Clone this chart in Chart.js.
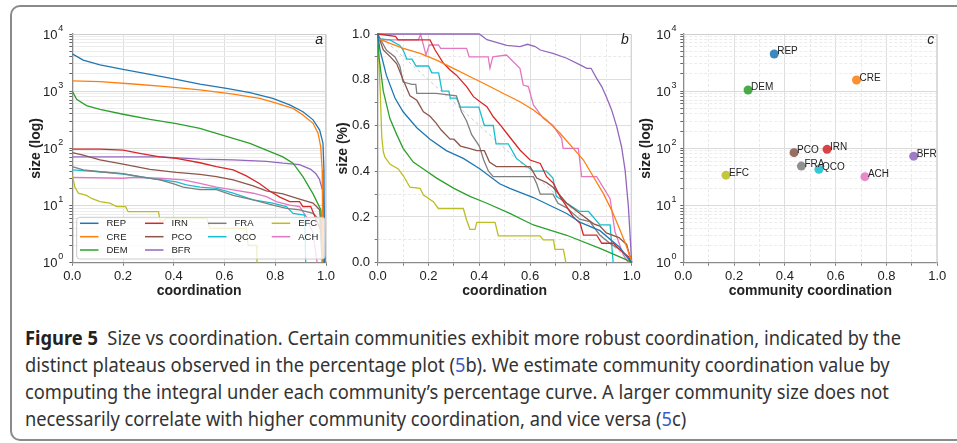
<!DOCTYPE html>
<html>
<head>
<meta charset="utf-8">
<script src="https://cdn.jsdelivr.net/npm/chart.js@4.4.1/dist/chart.umd.min.js"></script>
<style>
  body { margin: 0; width: 957px; height: 443px; overflow: hidden; background: #fff; position: relative; }
  #frame { position: absolute; left: 10px; top: 5px; width: 1000px; height: 436px; border: 2px solid #8a8a8a; border-radius: 10px; box-sizing: border-box; }
  canvas { position: absolute; top: 10px; }
  #pa { left: 10px; } #pb { left: 335px; } #pc { left: 636px; }
  .cap { position: absolute; left: 25px; font-family: 'Noto Sans', 'Open Sans', sans-serif; font-size: 20px; line-height: 27px; color: #333; white-space: nowrap; transform-origin: 0 0; }
  .cap b { color: #222; }
  .cap .ref { color: #3b5bcc; }
</style>
</head>
<body>
<div id="frame"></div>
<canvas id="pa" width="330" height="300"></canvas>
<canvas id="pb" width="310" height="300"></canvas>
<canvas id="pc" width="314" height="300"></canvas>
<div class="cap" style="top:324px"><b>Figure 5</b>&nbsp; Size vs coordination. Certain communities exhibit more robust coordination, indicated by the</div>
<div class="cap" style="top:351px">distinct plateaus observed in the percentage plot (<span class="ref">5</span>b). We estimate community coordination value by</div>
<div class="cap" style="top:378px">computing the integral under each community’s percentage curve. A larger community size does not</div>
<div class="cap" style="top:405px">necessarily correlate with higher community coordination, and vice versa (<span class="ref">5</span>c)</div>
<script>
const FONT = "'Liberation Sans', Arial, Helvetica, sans-serif";
Chart.defaults.font.family = FONT;
Chart.defaults.font.size = 13;
Chart.defaults.color = '#222';

// communities, in legend order
const COMMUNITIES = ['REP', 'CRE', 'DEM', 'IRN', 'PCO', 'BFR', 'FRA', 'QCO', 'EFC', 'ACH'];
const COLORS = ['#1f77b4', '#ff7f0e', '#2ca02c', '#d62728', '#8c564b', '#9467bd', '#7f7f7f', '#17becf', '#bcbd22', '#e377c2'];

// tick labels
const LIN_LABELS = ['0.0', '0.2', '0.4', '0.6', '0.8', '1.0'];
const LOG_EXPONENTS = [0, 1, 2, 3, 4];

// panel a: size (log) vs coordination, [coordination, size]
const sizeREP = [[0,4500],[0.043,3500],[0.109,2880],[0.2,2400],[0.306,1960],[0.41,1610],[0.503,1330],[0.608,1120],[0.7,940],[0.79,750],[0.857,575],[0.909,437],[0.949,315],[0.975,209],[0.988,123],[0.992,42],[0.994,1]];
const sizeCRE = [[0,1520],[0.109,1466],[0.24,1334],[0.37,1200],[0.503,1050],[0.634,890],[0.739,750],[0.804,615],[0.87,500],[0.909,383],[0.949,274],[0.969,183],[0.979,107],[0.985,42],[0.988,1]];
const sizeDEM = [[0,1000],[0.017,720],[0.056,560],[0.109,480],[0.2,395],[0.306,320],[0.41,270],[0.503,224],[0.568,183],[0.634,150],[0.7,122],[0.765,93],[0.83,71],[0.87,55],[0.909,32],[0.949,16],[0.98,8.4],[0.988,1]];
const sizeIRN = [[0,97],[0.109,97],[0.2,93],[0.266,82],[0.345,71],[0.41,67],[0.503,56],[0.568,48],[0.634,42],[0.686,33],[0.739,24],[0.778,18],[0.818,14],[0.857,11.7],[0.896,11.7],[0.909,9.6],[0.94,9.6],[0.962,5.6],[0.985,3.3],[0.99,1]];
const sizePCO = [[0,84],[0.043,76],[0.109,63],[0.2,53],[0.306,43],[0.41,38],[0.503,35],[0.568,32],[0.634,28],[0.713,22],[0.765,18],[0.83,16],[0.896,13],[0.949,11],[0.975,8.4],[0.992,1]];
const sizeBFR = [[0,71],[0.35,71],[0.4,69],[0.503,65],[0.634,63],[0.765,59],[0.83,55],[0.896,52],[0.94,43],[0.96,36],[0.974,29],[0.987,18],[0.993,8],[0.997,1]];
const sizeFRA = [[0,48],[0.043,42],[0.109,39],[0.2,36],[0.266,32],[0.345,28],[0.4,24],[0.437,21],[0.503,19],[0.568,19],[0.634,15],[0.713,12.5],[0.791,10.2],[0.844,8.9],[0.896,8.4],[0.949,7.3],[0.975,5.6],[0.985,1]];
const sizeQCO = [[0,42],[0.109,39],[0.2,35.6],[0.306,30],[0.41,26],[0.45,23],[0.503,21],[0.568,20],[0.634,16.4],[0.713,12.5],[0.79,11],[0.844,9.6],[0.87,7.3],[0.916,6.8],[0.92,1]];
const sizeEFC = [[0,34],[0.01,21],[0.024,16.4],[0.056,15],[0.076,13.3],[0.109,11.7],[0.148,11],[0.175,9.6],[0.21,9.6],[0.22,7.8],[0.34,7.8],[0.345,5.6],[0.36,5.3],[0.37,6],[0.53,6],[0.542,4],[0.686,4],[0.693,2],[0.726,2],[0.728,1]];
const sizeACH = [[0,31],[0.2,30],[0.24,31],[0.345,30],[0.437,28],[0.503,24.4],[0.568,21],[0.634,18.7],[0.713,16.4],[0.765,14.3],[0.804,11.7],[0.857,10.2],[0.896,9.6],[0.922,6.4],[0.949,3.3],[0.965,1]];

// panel b: size (%) vs coordination, [coordination, share]
const pctREP = [[0,1],[0.009,0.93],[0.034,0.82],[0.068,0.72],[0.1,0.66],[0.154,0.59],[0.206,0.54],[0.27,0.49],[0.337,0.456],[0.403,0.41],[0.48,0.345],[0.52,0.325],[0.613,0.285],[0.744,0.215],[0.8,0.175],[0.875,0.14],[0.95,0.07],[1,0]];
const pctCRE = [[0,0.98],[0.101,0.937],[0.167,0.915],[0.232,0.886],[0.298,0.85],[0.364,0.813],[0.43,0.777],[0.495,0.74],[0.56,0.704],[0.613,0.668],[0.665,0.624],[0.718,0.566],[0.77,0.5],[0.81,0.449],[0.849,0.376],[0.888,0.303],[0.921,0.23],[0.954,0.143],[0.98,0.07],[1,0.005]];
const pctDEM = [[0,1],[0.005,0.9],[0.022,0.75],[0.048,0.63],[0.075,0.56],[0.1,0.5],[0.14,0.44],[0.18,0.41],[0.232,0.37],[0.3,0.325],[0.363,0.29],[0.43,0.26],[0.52,0.216],[0.613,0.165],[0.744,0.12],[0.875,0.063],[0.98,0.012],[1,0]];
const pctIRN = [[0,1],[0.07,0.99],[0.08,0.974],[0.206,0.974],[0.226,0.93],[0.259,0.872],[0.285,0.843],[0.31,0.82],[0.35,0.77],[0.377,0.726],[0.403,0.704],[0.43,0.682],[0.455,0.638],[0.488,0.595],[0.508,0.566],[0.56,0.493],[0.6,0.449],[0.64,0.434],[0.665,0.376],[0.692,0.347],[0.718,0.289],[0.744,0.245],[0.77,0.2],[0.797,0.172],[0.81,0.121],[0.862,0.121],[0.882,0.085],[0.928,0.085],[0.954,0.055],[0.987,0.026],[1,0]];
const pctPCO = [[0,1],[0.022,0.93],[0.05,0.9],[0.075,0.87],[0.1,0.8],[0.127,0.73],[0.154,0.71],[0.18,0.66],[0.206,0.64],[0.23,0.61],[0.25,0.58],[0.285,0.54],[0.3,0.54],[0.326,0.51],[0.36,0.5],[0.39,0.49],[0.42,0.49],[0.44,0.44],[0.467,0.42],[0.6,0.42],[0.626,0.37],[0.665,0.35],[0.69,0.33],[0.744,0.26],[0.795,0.216],[0.85,0.17],[0.875,0.16],[0.9,0.13],[0.95,0.11],[0.98,0.08],[1,0]];
const pctBFR = [[0,1],[0.4,1],[0.43,0.975],[0.508,0.95],[0.56,0.945],[0.59,0.955],[0.62,0.945],[0.64,0.93],[0.69,0.915],[0.744,0.894],[0.797,0.865],[0.823,0.85],[0.84,0.85],[0.862,0.806],[0.882,0.77],[0.9,0.726],[0.921,0.668],[0.941,0.595],[0.96,0.507],[0.974,0.405],[0.987,0.245],[1,0]];
const pctFRA = [[0,1],[0.034,0.93],[0.068,0.9],[0.087,0.86],[0.1,0.79],[0.135,0.78],[0.15,0.78],[0.154,0.74],[0.23,0.74],[0.31,0.73],[0.33,0.66],[0.35,0.62],[0.37,0.56],[0.4,0.51],[0.417,0.45],[0.436,0.4],[0.455,0.376],[0.613,0.376],[0.626,0.345],[0.64,0.3],[0.69,0.3],[0.71,0.26],[0.744,0.24],[0.795,0.19],[0.835,0.18],[0.875,0.12],[0.92,0.08],[0.96,0.054],[1,0]];
const pctQCO = [[0,0.98],[0.048,0.974],[0.087,0.95],[0.1,0.93],[0.115,0.89],[0.135,0.89],[0.151,0.86],[0.2,0.86],[0.213,0.83],[0.24,0.83],[0.253,0.75],[0.28,0.75],[0.286,0.72],[0.31,0.72],[0.326,0.68],[0.398,0.68],[0.42,0.6],[0.455,0.6],[0.466,0.52],[0.514,0.52],[0.546,0.456],[0.612,0.4],[0.664,0.4],[0.69,0.37],[0.703,0.29],[0.795,0.224],[0.83,0.224],[0.875,0.165],[0.915,0.165],[0.927,0]];
const pctEFC = [[0,1],[0.01,0.75],[0.016,0.55],[0.022,0.485],[0.029,0.46],[0.049,0.43],[0.081,0.41],[0.101,0.38],[0.127,0.33],[0.167,0.325],[0.18,0.296],[0.219,0.267],[0.239,0.237],[0.337,0.237],[0.35,0.187],[0.363,0.146],[0.383,0.146],[0.39,0.176],[0.462,0.176],[0.475,0.117],[0.639,0.117],[0.652,0.1],[0.692,0.1],[0.698,0.058],[0.731,0.058],[0.741,0]];
const pctACH = [[0,0.974],[0.16,0.974],[0.169,0.999],[0.19,0.908],[0.203,0.952],[0.239,0.952],[0.248,0.937],[0.35,0.937],[0.36,0.9],[0.435,0.9],[0.442,0.85],[0.453,0.9],[0.507,0.908],[0.56,0.85],[0.573,0.777],[0.593,0.77],[0.613,0.69],[0.652,0.631],[0.69,0.6],[0.724,0.544],[0.73,0.5],[0.79,0.5],[0.803,0.376],[0.862,0.376],[0.915,0.28],[0.934,0.136],[0.967,0.034],[0.987,0]];
const DIAGONAL = [[0,1],[1,0]];

// panel c: community coordination and size
const COORDINATION = [0.358, 0.682, 0.255, 0.566, 0.436, 0.907, 0.465, 0.534, 0.168, 0.715];
const SIZE = [4470, 1567, 1050, 96, 84, 73, 49, 43, 34, 32];

const SIZE_CURVES = [sizeREP, sizeCRE, sizeDEM, sizeIRN, sizePCO, sizeBFR, sizeFRA, sizeQCO, sizeEFC, sizeACH];
const PCT_CURVES = [pctREP, pctCRE, pctDEM, pctIRN, pctPCO, pctBFR, pctFRA, pctQCO, pctEFC, pctACH];

const toPoints = arr => arr.map(([x, y]) => ({ x, y }));
const isDecade = v => v > 0 && Math.abs(Math.log10(v) - Math.round(Math.log10(v))) < 1e-9;
const isEvenTenth = v => Math.round(v * 10) % 2 === 0;

function xAxis(title, minor) {
  return {
    type: 'linear', min: 0, max: 1,
    afterFit: s => { s.height = 47.3; },
    ticks: {
      stepSize: minor ? 0.1 : 0.2, autoSkip: false, maxRotation: 0, padding: 3,
      callback: v => { const k = Math.round(v * 10); return k % 2 ? '' : LIN_LABELS[k / 2]; }
    },
    grid: { color: c => (c.tick && !isEvenTenth(c.tick.value)) ? '#e9e9e9' : '#dedede', tickLength: 3, tickColor: '#777' },
    border: { color: '#8a8a8a', width: 1.3, dash: c => (c.tick && !isEvenTenth(c.tick.value)) ? [3, 2] : [] },
    title: { display: true, text: title, font: { size: 14, weight: 'bold' }, padding: { top: 0, bottom: 10.9 } }
  };
}

function logAxis(width, titlePad, dashed) {
  return {
    type: 'logarithmic', min: 1, max: 10000,
    afterFit: s => { s.width = width; },
    afterBuildTicks: s => {
      const ticks = [];
      LOG_EXPONENTS.forEach(e => {
        const base = Math.pow(10, e);
        if (e === LOG_EXPONENTS[LOG_EXPONENTS.length - 1]) { ticks.push({ value: base, major: true }); return; }
        for (let d = 1; d < 10; d++) ticks.push({ value: d * base, major: d === 1 });
      });
      s.ticks = ticks;
    },
    ticks: { autoSkip: false, callback: () => '' },
    grid: { color: c => (c.tick && !isDecade(c.tick.value)) ? '#ececec' : '#dadada', tickLength: 3, tickColor: '#666' },
    border: { color: '#8a8a8a', width: 1.3, dash: c => (dashed && c.tick && !isDecade(c.tick.value)) ? [3, 2] : [] },
    title: { display: true, text: 'size (log)', font: { size: 14, weight: 'bold' }, padding: { top: titlePad, bottom: 0 } }
  };
}

function drawLegend(chart) {
  const { ctx, chartArea: a } = chart;
  const columns = [[0, 1, 2], [3, 4, 5], [6, 7], [8, 9]];
  const colX = [7.7, 72.7, 135.7, 199.4];
  const rowY = [-39.4, -26, -12.7];
  ctx.save();
  const x0 = a.left + 4.4, x1 = a.right - 1, y0 = a.bottom - 45.4, y1 = a.bottom - 3.7;
  ctx.fillStyle = 'rgba(255,255,255,0.8)';
  ctx.strokeStyle = '#cccccc';
  ctx.lineWidth = 1;
  ctx.beginPath();
  ctx.roundRect(x0, y0, x1 - x0, y1 - y0, 3);
  ctx.fill();
  ctx.stroke();
  ctx.font = '9.5px ' + FONT;
  ctx.textBaseline = 'middle';
  ctx.textAlign = 'left';
  columns.forEach((col, c) => col.forEach((idx, r) => {
    const x = a.left + colX[c], y = a.bottom + rowY[r];
    ctx.strokeStyle = COLORS[idx];
    ctx.lineWidth = 1.5;
    ctx.beginPath();
    ctx.moveTo(x, y);
    ctx.lineTo(x + 18.5, y);
    ctx.stroke();
    ctx.fillStyle = '#222';
    ctx.fillText(COMMUNITIES[idx], x + 26.5, y + 0.5);
  }));
  ctx.restore();
}

function drawPointLabels(chart) {
  const { ctx } = chart;
  ctx.save();
  ctx.font = '10px ' + FONT;
  ctx.fillStyle = '#222';
  ctx.textAlign = 'left';
  ctx.textBaseline = 'alphabetic';
  chart.getDatasetMeta(0).data.forEach((pt, i) => ctx.fillText(COMMUNITIES[i], pt.x + 3, pt.y + 0.5));
  ctx.restore();
}

const decor = {
  id: 'decor',
  beforeDatasetsDraw(chart) {
    const { ctx, chartArea: a } = chart;
    ctx.save();
    ctx.strokeStyle = '#cfcfcf';
    ctx.lineWidth = 1;
    ctx.beginPath();
    ctx.moveTo(a.left, a.top + 0.5);
    ctx.lineTo(a.right - 0.5, a.top + 0.5);
    ctx.lineTo(a.right - 0.5, a.bottom);
    ctx.stroke();
    ctx.restore();
  },
  afterDatasetsDraw(chart, args, o) {
    if (o.legend) drawLegend(chart);
    if (o.pointLabels) drawPointLabels(chart);
  },
  afterDraw(chart, args, o) {
    const { ctx, chartArea: a } = chart;
    ctx.save();
    ctx.fillStyle = '#222';
    if (o.expGap != null) {
      const s = chart.scales.y;
      LOG_EXPONENTS.forEach(e => {
        const y = s.getPixelForValue(Math.pow(10, e));
        const xr = s.right - o.expGap;
        ctx.textAlign = 'right';
        ctx.textBaseline = 'alphabetic';
        ctx.font = '9px ' + FONT;
        ctx.fillText(String(e), xr, y - 3.5);
        const ew = ctx.measureText(String(e)).width;
        ctx.font = '13px ' + FONT;
        ctx.fillText('10', xr - ew - 0.8, y + 4.7);
      });
    }
    ctx.font = 'italic 14px ' + FONT;
    ctx.textAlign = 'right';
    ctx.textBaseline = 'middle';
    ctx.fillText(o.letter, a.right - 3, a.top + 6.5);
    ctx.restore();
  }
};

const base = {
  responsive: false, animation: false, events: [],
  elements: { line: { borderWidth: 1.3, tension: 0 }, point: { radius: 0 } }
};

new Chart(document.getElementById('pa'), {
  type: 'line',
  data: {
    datasets: COMMUNITIES.map((name, i) => ({
      label: name, data: toPoints(SIZE_CURVES[i]), borderColor: COLORS[i], fill: false
    }))
  },
  options: Object.assign({}, base, {
    layout: { padding: { left: 0, top: 24, right: 14, bottom: 0 } },
    plugins: { legend: { display: false }, tooltip: { enabled: false }, decor: { letter: 'a', legend: true, expGap: 9 } },
    scales: { x: xAxis('coordination', false), y: logAxis(62.3, 17.6, false) }
  }),
  plugins: [decor]
});

new Chart(document.getElementById('pb'), {
  type: 'line',
  data: {
    datasets: COMMUNITIES.map((name, i) => ({
      label: name, data: toPoints(PCT_CURVES[i]), borderColor: COLORS[i], fill: false, clip: 2
    })).concat([{
      label: 'diagonal', data: toPoints(DIAGONAL), borderColor: '#c8c8c8', borderWidth: 1, borderDash: [3, 3], fill: false, order: 1
    }])
  },
  options: Object.assign({}, base, {
    layout: { padding: { left: 0, top: 24, right: 13.3, bottom: 0 } },
    plugins: { legend: { display: false }, tooltip: { enabled: false }, decor: { letter: 'b' } },
    scales: {
      x: xAxis('coordination', true),
      y: Object.assign(xAxis('size (%)', true), {
        afterFit: s => { s.width = 42.7; },
        title: { display: true, text: 'size (%)', font: { size: 14, weight: 'bold' }, padding: { top: 0, bottom: 0 } },
        ticks: {
          stepSize: 0.1, autoSkip: false, padding: 4.7,
          callback: v => { const k = Math.round(v * 10); return k % 2 ? '' : LIN_LABELS[k / 2]; }
        }
      })
    }
  }),
  plugins: [decor]
});

new Chart(document.getElementById('pc'), {
  type: 'scatter',
  data: {
    datasets: [{
      label: 'communities',
      data: COORDINATION.map((x, i) => ({ x, y: SIZE[i] })),
      pointRadius: 4.5,
      pointBorderWidth: 0,
      pointBackgroundColor: COLORS.map(c => c + 'dd')
    }]
  },
  options: Object.assign({}, base, {
    elements: { point: { radius: 4.5 } },
    layout: { padding: { left: 0, top: 24, right: 12.7, bottom: 0 } },
    plugins: { legend: { display: false }, tooltip: { enabled: false }, decor: { letter: 'c', pointLabels: true, expGap: 6.8 } },
    scales: { x: xAxis('community coordination', true), y: logAxis(47.3, 1.6, true) }
  }),
  plugins: [decor]
});

// caption lines share one horizontal squeeze, fitted to the first line
const capLines = document.querySelectorAll('.cap');
const squeeze = 876 / capLines[0].getBoundingClientRect().width;
capLines.forEach(el => { el.style.transform = 'scaleX(' + squeeze + ')'; });
</script>
</body>
</html>
